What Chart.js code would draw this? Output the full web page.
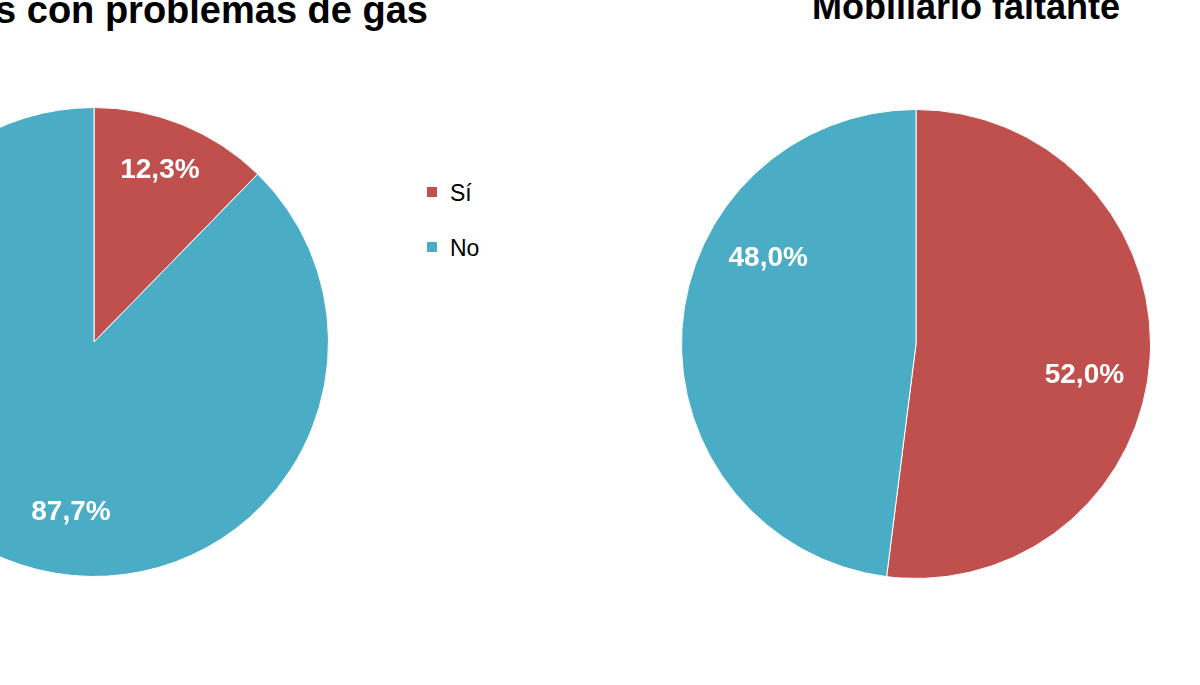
<!DOCTYPE html>
<html>
<head>
<meta charset="utf-8">
<script src="https://cdn.jsdelivr.net/npm/chart.js@4.4.1/dist/chart.umd.min.js"></script>
<style>
  html, body { margin:0; padding:0; width:1200px; height:685px; overflow:hidden; background:#fff; }
  body { position:relative; font-family:"Liberation Sans", Arial, sans-serif; }
  .title { position:absolute; font-weight:bold; color:#000; white-space:nowrap; line-height:36px; }
  #t1 { right:772px; top:-8px; font-size:38px; text-align:right; }
  #t2 { left:812px; top:-11px; font-size:36px; }
  canvas { position:absolute; }
  #c1 { left:-146px; top:102px; }
  #c2 { left:676px; top:104px; }
  #legend { position:absolute; left:427px; top:176px; }
  .item { position:relative; height:55px; font-family:"Liberation Sans",Arial,sans-serif; font-size:23px; color:#000; }
  .sw { position:absolute; left:0; top:11px; width:10px; height:10px; }
  .lb { position:absolute; left:23px; top:0; line-height:34px; }
</style>
</head>
<body>
<div class="title" id="t1"></div>
<div class="title" id="t2"></div>
<canvas id="c1" width="480" height="480"></canvas>
<canvas id="c2" width="480" height="480"></canvas>
<div id="legend"></div>
<script>
const categories = ['Sí', 'No'];
const gasValues = [12.3, 87.7];
const mobiliarioValues = [52.0, 48.0];
const titles = ['Escuelas con problemas de gas', 'Mobiliario faltante'];
const colors = ['#C0504D', '#4BACC6'];

document.getElementById('t1').textContent = titles[0];
document.getElementById('t2').textContent = titles[1];

const legend = document.getElementById('legend');
categories.forEach((c, i) => {
  const item = document.createElement('div');
  item.className = 'item';
  const sw = document.createElement('div');
  sw.className = 'sw';
  sw.style.background = colors[i];
  const lb = document.createElement('div');
  lb.className = 'lb';
  lb.textContent = c;
  item.appendChild(sw); item.appendChild(lb);
  legend.appendChild(item);
});

const pieLabels = {
  id: 'pieLabels',
  afterDatasetsDraw(chart, args, opts) {
    const ctx = chart.ctx;
    const meta = chart.getDatasetMeta(0);
    const data = chart.data.datasets[0].data;
    ctx.save();
    ctx.fillStyle = '#fff';
    ctx.font = 'bold 28px "Liberation Sans", Arial, sans-serif';
    ctx.textAlign = 'center';
    ctx.textBaseline = 'middle';
    meta.data.forEach((arc, i) => {
      const p = arc.getProps(['x','y','startAngle','endAngle','outerRadius'], true);
      const ang = (p.startAngle + p.endAngle) / 2 + (opts.shift[i] || 0) * Math.PI / 180;
      const r = p.outerRadius * opts.frac[i];
      const txt = data[i].toFixed(1).replace('.', ',') + '%';
      ctx.fillText(txt, p.x + r * Math.cos(ang), p.y + r * Math.sin(ang) + 1);
    });
    ctx.restore();
  }
};

function makePie(id, values, shift, frac) {
  return new Chart(document.getElementById(id), {
    type: 'pie',
    data: {
      labels: categories,
      datasets: [{
        data: values,
        backgroundColor: colors,
        borderColor: '#ffffff',
        borderWidth: 1
      }]
    },
    options: {
      responsive: false,
      animation: false,
      layout: { padding: 5 },
      plugins: {
        legend: { display: false },
        tooltip: { enabled: false },
        pieLabels: { shift: shift, frac: frac }
      }
    },
    plugins: [pieLabels]
  });
}

makePie('c1', gasValues, [-1.3, -14.4], [0.79, 0.73]);
makePie('c2', mobiliarioValues, [6.7, 26.7], [0.73, 0.73]);
</script>
</body>
</html>
